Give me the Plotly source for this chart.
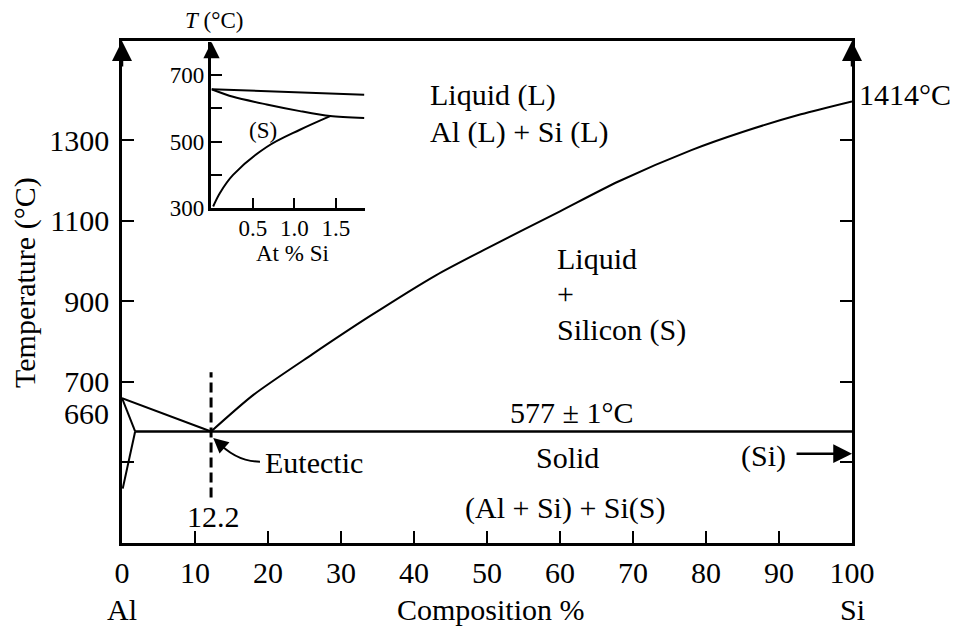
import plotly.graph_objects as go

# ---------------- data ----------------
# Main diagram (composition % Si, temperature °C)
liq_si_comp = [12.2, 18, 26, 34, 43, 50, 60, 68, 78, 85, 93, 100]
liq_si_temp = [577, 668, 768, 864, 965, 1032, 1124, 1198, 1276, 1321, 1365, 1397]
liq_al_comp = [0, 12.2]
liq_al_temp = [660, 577]
sol_al_comp = [0, 1.8]
sol_al_temp = [660, 577]
solv_al_comp = [1.8, 0.1]
solv_al_temp = [577, 435]
eut_comp = [1.8, 100]
eut_temp = [577, 577]
eut_x = 12.2
dash_temp = [413, 724]

x_ticks = [0, 10, 20, 30, 40, 50, 60, 70, 80, 90, 100]
y_ticks = [500, 700, 900, 1100, 1300]
y_ticktext = ["", "700", "900", "1100", "1300"]

# Inset (At % Si, °C)
in_liq_comp = [0, 1.84]
in_liq_temp = [658, 641]
in_sol_comp = [0, 0.26, 0.665, 1.066, 1.43, 1.84]
in_sol_temp = [658, 635, 612, 592, 577, 571]
in_solv_comp = [0.02, 0.1, 0.26, 0.665, 1.066, 1.43]
in_solv_temp = [305, 345, 400, 484, 536, 577]
in_x_ticks = [0.5, 1.0, 1.5]
in_x_ticktext = ["0.5", "1.0", "1.5"]
in_y_ticks = [300, 400, 500, 600, 700]
in_y_ticktext = ["300", "", "500", "", "700"]

FONT = "Liberation Serif, Times New Roman, serif"
BIG = 30
SMALL = 23
LW = 2

fig = go.Figure()

def line(x, y, xa="x", ya="y", dash=None, width=LW, shape="linear", smoothing=0.8):
    fig.add_trace(go.Scatter(x=x, y=y, mode="lines", xaxis=xa, yaxis=ya,
                             line=dict(color="black", width=width, dash=dash,
                                       shape=shape, smoothing=smoothing),
                             showlegend=False, hoverinfo="skip"))

line(liq_si_comp, liq_si_temp, shape="spline", smoothing=0.7)
line(liq_al_comp, liq_al_temp)
line(sol_al_comp, sol_al_temp)
line(solv_al_comp, solv_al_temp)
line(eut_comp, eut_temp, width=2.5)
line([eut_x, eut_x], dash_temp, dash="10px,5px", width=3)

line(in_liq_comp, in_liq_temp, "x2", "y2")
line(in_sol_comp, in_sol_temp, "x2", "y2", shape="spline")
line(in_solv_comp, in_solv_temp, "x2", "y2", shape="spline", smoothing=1.0)

ann = []
def text(t, x, y, xa="x", ya="y", xanchor="center", size=BIG, **kw):
    ann.append(dict(text=t, x=x, y=y, xref=xa, yref=ya, xanchor=xanchor,
                    yanchor="middle", showarrow=False,
                    font=dict(family=FONT, size=size, color="black"), **kw))

def arrow(x, y, ax, ay, xa="x", ya="y", size=1.6, width=2.5):
    ann.append(dict(text="", x=x, y=y, ax=ax, ay=ay, xref=xa, yref=ya,
                    axref=xa, ayref=ya, showarrow=True, arrowhead=2,
                    arrowsize=size, arrowwidth=width, arrowcolor="black",
                    standoff=0, startstandoff=0))

# labels in main area
text("Liquid (L)", 41.9, 1412, xanchor="left")
text("Al (L) + Si (L)", 41.9, 1322, xanchor="left")
text("Liquid", 59.3, 1007, xanchor="left")
text("+", 59.3, 920, xanchor="left")
text("Silicon (S)", 59.3, 830, xanchor="left")
text("577 ± 1°C", 61.6, 624)
text("Solid", 61.0, 512)
text("(Al + Si) + Si(S)", 60.7, 388)
text("(Si)", 91.2, 517, xanchor="right")
text("12.2", 12.6, 366)
text("Eutectic", 19.3, 500, xanchor="left")
text("1414°C", 100, 1414, xanchor="left", xshift=5)
text("660", 0, 660, xanchor="right", xshift=-11, yshift=-15)
# axis texts
text("Al", 0, 0, ya="paper", yshift=-66)
text("Si", 100, 0, ya="paper", yshift=-66)
text("Composition %", 50.6, 0, ya="paper", yshift=-66)
text("Temperature (°C)", 0, 0.5, xa="paper", ya="paper", xshift=-97, yshift=9,
     textangle=-90)

# arrows
arrow(0, 1547, 0, 1480)
arrow(100, 1547, 100, 1480)
arrow(100, 522, 92.2, 522, size=1.5, width=2.5)
arrow(12.5, 561, 13.5, 545, size=1.5, width=2)

# inset texts
text("(S)", 0.62, 533, "x2", "y2", size=SMALL)
text("At % Si", 0.98, 0, "x2", "y2 domain", size=SMALL, yshift=-45)
text("<i>T</i> (°C)", 0.03, 1, "x2", "y2 domain", size=SMALL, yshift=22)
arrow(0, 800, 0, 750, "x2", "y2", size=1.3, width=2.5)

# the page body adds an 8 px offset, so the figure is 8 px smaller
fig.update_layout(
    annotations=ann,
    shapes=[dict(type="path", xref="x", yref="y",
                 path="M 18.9,502 Q 15.6,502 12.9,555",
                 line=dict(color="black", width=2))],
    width=960, height=622,
    margin=dict(l=114, r=116, t=33, b=87),
    paper_bgcolor="white", plot_bgcolor="white",
    font=dict(family=FONT, size=BIG, color="black"),
    xaxis=dict(range=[0, 100], tickvals=x_ticks, ticks="inside", ticklen=12,
               tickwidth=2, tickcolor="black", showline=True, linecolor="black",
               linewidth=2.5, mirror=True, showgrid=False, zeroline=False,
               tickfont=dict(family=FONT, size=BIG), ticklabelstandoff=1),
    yaxis=dict(range=[300, 1547], tickvals=y_ticks, ticktext=y_ticktext,
               ticks="inside", ticklen=12, tickwidth=2, tickcolor="black",
               showline=True, linecolor="black", linewidth=2.5, mirror="ticks",
               showgrid=False, zeroline=False,
               tickfont=dict(family=FONT, size=BIG), ticklabelstandoff=4),
    xaxis2=dict(domain=[0.1226, 0.3329], range=[0, 1.85], anchor="y2",
                tickvals=in_x_ticks, ticktext=in_x_ticktext, ticks="inside",
                ticklen=10, tickwidth=2, tickcolor="black", showline=True,
                linecolor="black", linewidth=2.5, showgrid=False, zeroline=False,
                tickfont=dict(family=FONT, size=SMALL), ticklabelstandoff=-3),
    yaxis2=dict(domain=[0.667, 0.998], range=[300, 800], anchor="x2",
                tickvals=in_y_ticks, ticktext=in_y_ticktext, ticks="inside",
                ticklen=11, tickwidth=2, tickcolor="black", showline=True,
                linecolor="black", linewidth=2.5, showgrid=False, zeroline=False,
                tickfont=dict(family=FONT, size=SMALL), ticklabelstandoff=0),
)

fig.write_html("out.html")
